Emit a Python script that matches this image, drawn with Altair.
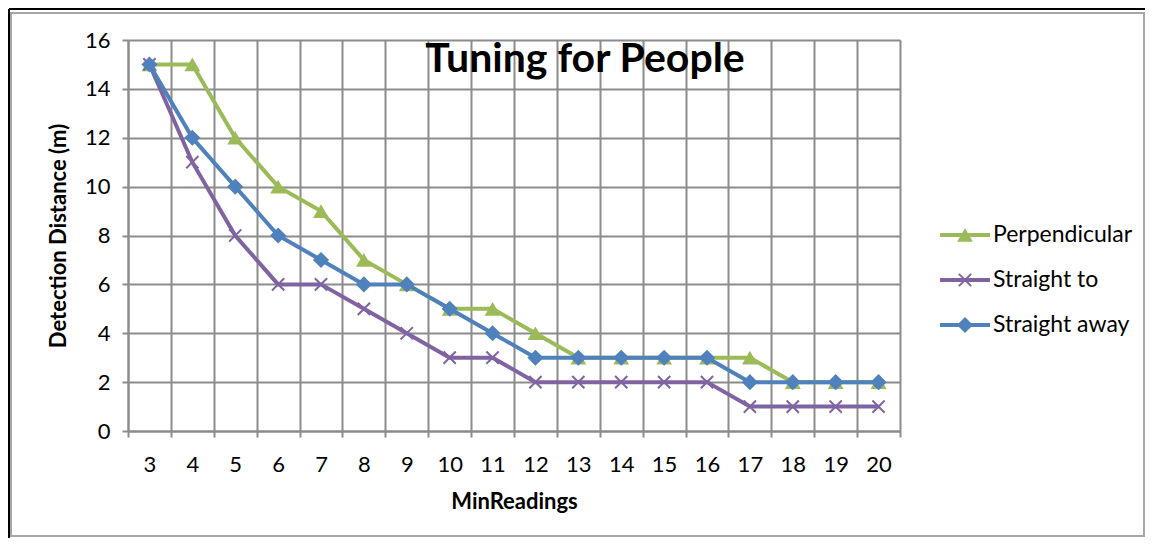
import altair as alt
import pandas as pd

# ---- data ----
min_readings = [3, 4, 5, 6, 7, 8, 9, 10, 11, 12, 13, 14, 15, 16, 17, 18, 19, 20]
series_names = ["Perpendicular", "Straight to", "Straight away"]
perpendicular = [15, 15, 12, 10, 9, 7, 6, 5, 5, 4, 3, 3, 3, 3, 3, 2, 2, 2]
straight_to = [15, 11, 8, 6, 6, 5, 4, 3, 3, 2, 2, 2, 2, 2, 1, 1, 1, 1]
straight_away = [15, 12, 10, 8, 7, 6, 6, 5, 4, 3, 3, 3, 3, 3, 2, 2, 2, 2]
y_ticks = [0, 2, 4, 6, 8, 10, 12, 14, 16]
chart_title = "Tuning for People"
x_title = "MinReadings"
y_title = "Detection Distance (m)"

colors = ["#9BBB59", "#8064A2", "#4F81BD"]
X_PATH = "M-1,-1L1,1M-1,1L1,-1"
FONT = "Lato"
GRID = "#8c8c8c"

values = [perpendicular, straight_to, straight_away]

x_enc = alt.X(
    "MinReadings:O",
    sort=None,
    scale=alt.Scale(type="band", domain=min_readings, paddingInner=0, paddingOuter=0),
    axis=alt.Axis(
        title=x_title, tickBand="extent", grid=True, gridColor=GRID, gridWidth=2,
        domainColor=GRID, domainWidth=2, tickColor=GRID, tickWidth=2, tickSize=6,
        labelAngle=0, labelFont=FONT, labelFontSize=22, labelColor="#000000",
        labelPadding=17, titleFont=FONT, titleFontSize=22, titleFontWeight="bold",
        titleColor="#000000", titlePadding=16,
    ),
)
y_enc = alt.Y(
    "Distance:Q",
    scale=alt.Scale(domain=[0, 16], nice=False, zero=True),
    axis=alt.Axis(
        title=y_title, values=y_ticks, grid=True, gridColor=GRID, gridWidth=2,
        domainColor=GRID, domainWidth=2, tickColor=GRID, tickWidth=2, tickSize=6,
        labelFont=FONT, labelFontSize=22, labelColor="#000000", labelPadding=12,
        titleFont=FONT, titleFontSize=22, titleFontWeight="bold",
        titleColor="#000000", titlePadding=14,
    ),
)

layers = []

# border decoration
deco = pd.DataFrame({"d": [0]})
layers.append(
    alt.Chart(deco).mark_rect(filled=False, stroke="#a6a6a6", strokeWidth=2).encode(
        x=alt.value(-117), x2=alt.value(1016), y=alt.value(-27), y2=alt.value(496)
    )
)
layers.append(
    alt.Chart(deco).mark_rule(color="#000000", strokeWidth=2).encode(
        x=alt.value(-119), x2=alt.value(1024), y=alt.value(-31)
    )
)
layers.append(
    alt.Chart(deco).mark_rule(color="#000000", strokeWidth=2).encode(
        x=alt.value(-119), y=alt.value(-31), y2=alt.value(508)
    )
)

shapes = ["triangle-up", X_PATH, "diamond"]


def marker(chart, shp, col):
    if shp == X_PATH:
        return chart.mark_point(shape=shp, filled=False, color=col, strokeWidth=2, size=150, opacity=1)
    if shp == "diamond":
        return chart.mark_point(shape=shp, filled=True, color=col, size=260, opacity=1)
    return chart.mark_point(shape=shp, filled=True, color=col, size=250, opacity=1)


for name, vals, col, shp in zip(series_names, values, colors, shapes):
    df = pd.DataFrame({"MinReadings": min_readings, "Distance": vals, "Series": name})
    base = alt.Chart(df)
    layers.append(base.mark_line(color=col, strokeWidth=4).encode(x=x_enc, y=y_enc))
    layers.append(marker(base, shp, col).encode(x=x_enc, y=y_enc))

# title inside plot
layers.append(
    alt.Chart(pd.DataFrame({"t": [chart_title]})).mark_text(
        font=FONT, fontSize=41, fontWeight="bold", color="#000000", align="center", baseline="middle"
    ).encode(text="t:N", x=alt.value(457), y=alt.value(20))
)

# manual legend
leg_y = [195, 240, 285]
for name, col, shp, ly in zip(series_names, colors, shapes, leg_y):
    ldf = pd.DataFrame({"Series": [name]})
    lb = alt.Chart(ldf)
    layers.append(lb.mark_rule(color=col, strokeWidth=4).encode(x=alt.value(812), x2=alt.value(862), y=alt.value(ly)))
    layers.append(marker(lb, shp, col).encode(x=alt.value(837), y=alt.value(ly)))
    layers.append(
        lb.mark_text(font=FONT, fontSize=23, color="#000000", align="left", baseline="middle").encode(
            text="Series:N", x=alt.value(865), y=alt.value(ly)
        )
    )

chart = alt.layer(*layers).properties(
    width=772, height=391,
    autosize=alt.AutoSizeParams(type="none"),
    padding={"left": 120, "top": 32, "right": 245, "bottom": 107},
).configure_view(stroke=None).configure(background="white")

chart.save("out.html", embed_options={"renderer": "svg", "actions": False})
